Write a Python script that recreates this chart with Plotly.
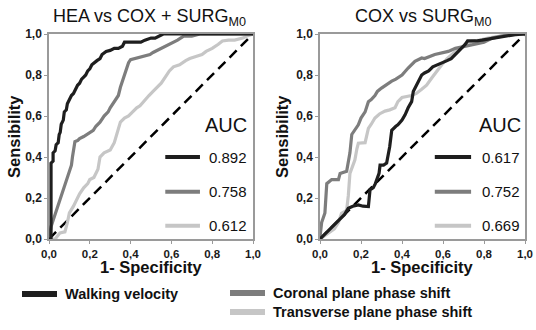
import plotly.graph_objects as go

# ---------------- data ----------------
tick_vals = [0, 0.2, 0.4, 0.6, 0.8, 1.0]
tick_text = ["0,0", "0,2", "0,4", "0,6", "0,8", "1,0"]

panel_titles = ["HEA vs COX + SURG<sub>M0</sub>", "COX vs SURG<sub>M0</sub>"]
series_names = ["Walking velocity", "Coronal plane phase shift", "Transverse plane phase shift"]
auc_left = ["0.892", "0.758", "0.612"]
auc_right = ["0.617", "0.752", "0.669"]

# Left panel: HEA vs COX + SURG M0
LB_x = [0, 0.01, 0.01, 0.02, 0.02, 0.03, 0.035, 0.045, 0.05, 0.055, 0.06, 0.07, 0.075, 0.085, 0.09, 0.10, 0.11,
        0.12, 0.13, 0.14, 0.15, 0.16, 0.17, 0.18, 0.19, 0.20, 0.21, 0.22, 0.235, 0.25, 0.26, 0.28, 0.30, 0.32,
        0.34, 0.36, 0.37, 0.40, 0.45, 0.47, 0.50, 0.52, 0.54, 0.56, 1.0]
LB_y = [0, 0, 0.37, 0.38, 0.42, 0.43, 0.46, 0.47, 0.51, 0.52, 0.56, 0.58, 0.62, 0.63, 0.66, 0.68, 0.70,
        0.71, 0.73, 0.75, 0.76, 0.78, 0.79, 0.80, 0.82, 0.83, 0.85, 0.86, 0.87, 0.88, 0.90, 0.915, 0.92, 0.93,
        0.93, 0.94, 0.96, 0.96, 0.96, 0.97, 0.98, 0.98, 0.99, 1.0, 1.0]

LG_x = [0, 0.005, 0.01, 0.02, 0.03, 0.04, 0.05, 0.06, 0.07, 0.08, 0.09, 0.10, 0.11, 0.115, 0.12, 0.127, 0.14,
        0.15, 0.17, 0.185, 0.2, 0.217, 0.23, 0.25, 0.27, 0.29, 0.30, 0.32, 0.34, 0.35, 0.36, 0.37, 0.38, 0.39,
        0.40, 0.42, 0.446, 0.47, 0.495, 0.51, 0.53, 0.544, 0.57, 0.59, 0.61, 0.63, 0.66, 0.70, 0.74, 1.0]
LG_y = [0, 0.04, 0.06, 0.09, 0.12, 0.14, 0.18, 0.21, 0.24, 0.27, 0.29, 0.32, 0.36, 0.40, 0.44, 0.475, 0.48,
        0.49, 0.50, 0.51, 0.52, 0.53, 0.55, 0.57, 0.60, 0.62, 0.64, 0.67, 0.70, 0.74, 0.77, 0.80, 0.83, 0.86,
        0.875, 0.88, 0.886, 0.89, 0.90, 0.91, 0.92, 0.93, 0.94, 0.95, 0.964, 0.97, 0.99, 0.99, 1.0, 1.0]

LL_x = [0, 0.03, 0.054, 0.078, 0.09, 0.10, 0.12, 0.14, 0.15, 0.17, 0.19, 0.20, 0.22, 0.24, 0.25, 0.27, 0.29,
        0.30, 0.32, 0.33, 0.34, 0.35, 0.37, 0.39, 0.41, 0.43, 0.446, 0.47, 0.49, 0.51, 0.53, 0.55, 0.57, 0.59,
        0.61, 0.64, 0.67, 0.69, 0.72, 0.75, 0.77, 0.80, 0.83, 0.85, 0.88, 0.91, 0.95, 0.97, 1.0]
LL_y = [0, 0, 0.03, 0.035, 0.08, 0.127, 0.16, 0.20, 0.22, 0.25, 0.27, 0.29, 0.30, 0.34, 0.40, 0.42, 0.43,
        0.434, 0.47, 0.50, 0.53, 0.57, 0.59, 0.60, 0.62, 0.64, 0.65, 0.68, 0.70, 0.72, 0.74, 0.76, 0.79, 0.82,
        0.84, 0.85, 0.87, 0.88, 0.89, 0.90, 0.915, 0.93, 0.95, 0.966, 0.97, 0.97, 0.98, 0.99, 1.0]

# Right panel: COX vs SURG M0
RB_x = [0, 0.02, 0.04, 0.06, 0.08, 0.10, 0.12, 0.138, 0.16, 0.187, 0.21, 0.236, 0.244, 0.26, 0.27, 0.288,
        0.293, 0.31, 0.325, 0.34, 0.345, 0.35, 0.37, 0.38, 0.40, 0.415, 0.43, 0.447, 0.455, 0.463, 0.48, 0.496,
        0.51, 0.53, 0.55, 0.577, 0.60, 0.62, 0.64, 0.66, 0.69, 0.707, 0.72, 0.76, 0.79, 0.82, 0.85, 0.90, 0.95, 1.0]
RB_y = [0, 0.02, 0.04, 0.06, 0.08, 0.10, 0.12, 0.15, 0.16, 0.166, 0.16, 0.158, 0.24, 0.25, 0.27, 0.32,
        0.36, 0.36, 0.37, 0.45, 0.49, 0.53, 0.55, 0.557, 0.58, 0.606, 0.64, 0.67, 0.72, 0.736, 0.77, 0.80,
        0.81, 0.82, 0.84, 0.85, 0.86, 0.87, 0.88, 0.90, 0.93, 0.948, 0.966, 0.966, 0.97, 0.975, 0.98, 0.99, 0.997, 1.0]

RG_x = [0, 0, 0.008, 0.024, 0.033, 0.057, 0.09, 0.098, 0.13, 0.138, 0.146, 0.155, 0.17, 0.187, 0.20, 0.22,
        0.236, 0.25, 0.268, 0.28, 0.30, 0.32, 0.35, 0.37, 0.40, 0.43, 0.463, 0.496, 0.51, 0.56, 0.60, 0.626,
        0.66, 0.707, 0.74, 0.77, 0.80, 0.84, 0.88, 0.92, 1.0]
RG_y = [0, 0.01, 0.08, 0.127, 0.27, 0.29, 0.29, 0.32, 0.33, 0.37, 0.42, 0.51, 0.53, 0.557, 0.59, 0.62,
        0.67, 0.68, 0.70, 0.72, 0.736, 0.75, 0.77, 0.78, 0.80, 0.834, 0.867, 0.883, 0.88, 0.90, 0.91, 0.915,
        0.93, 0.94, 0.95, 0.956, 0.96, 0.98, 0.99, 0.997, 1.0]

RL_x = [0, 0.04, 0.07, 0.09, 0.105, 0.13, 0.138, 0.146, 0.16, 0.17, 0.18, 0.187, 0.22, 0.236, 0.25, 0.268,
        0.29, 0.317, 0.34, 0.366, 0.38, 0.40, 0.447, 0.47, 0.496, 0.52, 0.545, 0.57, 0.594, 0.62, 0.66, 0.70,
        0.74, 0.78, 0.82, 0.88, 0.95, 1.0]
RL_y = [0, 0.03, 0.05, 0.08, 0.125, 0.14, 0.21, 0.32, 0.36, 0.385, 0.44, 0.467, 0.47, 0.54, 0.56, 0.59,
        0.61, 0.624, 0.63, 0.64, 0.67, 0.69, 0.70, 0.71, 0.73, 0.75, 0.785, 0.82, 0.85, 0.88, 0.915, 0.94,
        0.964, 0.97, 0.98, 0.99, 0.997, 1.0]

diag = [0, 1]

# ---------------- styling ----------------
colors = ["#1e1e1e", "#7d7d7d", "#c6c6c6"]
FONT = "Liberation Sans, Arial, sans-serif"
W, H = 536, 330

fig = go.Figure()

panels = [
    ("x", "y", [(LB_x, LB_y), (LG_x, LG_y), (LL_x, LL_y)]),
    ("x2", "y2", [(RB_x, RB_y), (RG_x, RG_y), (RL_x, RL_y)]),
]
for xa, ya, curves in panels:
    fig.add_trace(go.Scatter(x=diag, y=diag, xaxis=xa, yaxis=ya, mode="lines",
                             line=dict(color="black", width=2.5, dash="10px,6px"),
                             showlegend=False, hoverinfo="skip"))
    for i in [2, 1, 0]:
        cx, cy = curves[i]
        fig.add_trace(go.Scatter(x=cx, y=cy, xaxis=xa, yaxis=ya, mode="lines",
                                 line=dict(color=colors[i], width=3.2),
                                 showlegend=False, hoverinfo="skip"))

axis_common = dict(range=[0, 1], tickvals=tick_vals, ticktext=tick_text, showline=True, mirror=True,
                   linecolor="#9a9a9a", linewidth=1.5, ticks="outside", ticklen=3, tickcolor="#9a9a9a",
                   showgrid=False, zeroline=False, fixedrange=True, automargin=False)
xfont = dict(family=FONT, size=11.5, color="#1a1a1a", weight="bold")
yfont = dict(family=FONT, size=12, color="#1a1a1a", weight="bold")

yb, yt = (H - 239) / H, (H - 34) / H
fig.update_layout(
    width=W, height=H, margin=dict(l=0, r=0, t=0, b=0, autoexpand=False),
    paper_bgcolor="white", plot_bgcolor="white", showlegend=False,
    xaxis=dict(domain=[49 / W, 253 / W], anchor="y", tickfont=xfont, **axis_common),
    yaxis=dict(domain=[yb, yt], anchor="x", tickfont=yfont, **axis_common),
    xaxis2=dict(domain=[320 / W, 525 / W], anchor="y2", tickfont=xfont, **axis_common),
    yaxis2=dict(domain=[yb, yt], anchor="x2", tickfont=yfont, **axis_common),
)

ann = []
shapes = []
for xc, t in [(149, panel_titles[0]), (423, panel_titles[1])]:
    ann.append(dict(x=xc / W, y=(H - 17) / H, xref="paper", yref="paper", text=t, showarrow=False,
                    xanchor="center", yanchor="middle",
                    font=dict(family=FONT, size=18, color="#111")))
for xc in [151 / W, 422 / W]:
    ann.append(dict(x=xc, y=(H - 267) / H, xref="paper", yref="paper", text="1- Specificity", showarrow=False,
                    xanchor="center", yanchor="middle",
                    font=dict(family=FONT, size=16.5, color="#111", weight="bold")))
for xc in [14 / W, 282 / W]:
    ann.append(dict(x=xc, y=(H - 137) / H, xref="paper", yref="paper", text="Sensibility", showarrow=False,
                    xanchor="center", yanchor="middle", textangle=-90,
                    font=dict(family=FONT, size=16.5, color="#111", weight="bold")))

inner_y = [0.40, 0.23, 0.065]
for xa, ya, vals, lx0, lx1, tx, ac in [("x", "y", auc_left, 0.57, 0.74, 0.775, 0.87),
                                         ("x2", "y2", auc_right, 0.56, 0.737, 0.78, 0.876)]:
    ann.append(dict(x=ac, y=0.555, xref=xa, yref=ya, text="AUC", showarrow=False,
                    xanchor="center", yanchor="middle",
                    font=dict(family=FONT, size=20, color="#111")))
    for i, v in enumerate(vals):
        shapes.append(dict(type="line", xref=xa, yref=ya, x0=lx0, x1=lx1, y0=inner_y[i], y1=inner_y[i],
                           line=dict(color=colors[i], width=4)))
        ann.append(dict(x=tx, y=inner_y[i], xref=xa, yref=ya, text=v, showarrow=False,
                        xanchor="left", yanchor="middle",
                        font=dict(family=FONT, size=15, color="#111")))

leg = [(22, 57, 294, 63), (230, 265, 293, 271), (230, 265, 312, 271)]
for i, (x0, x1, yy, tx) in enumerate(leg):
    shapes.append(dict(type="line", xref="paper", yref="paper", x0=x0 / W, x1=x1 / W,
                       y0=(H - yy) / H, y1=(H - yy) / H, line=dict(color=colors[i], width=6)))
    ann.append(dict(x=tx / W, y=(H - yy) / H, xref="paper", yref="paper", text=series_names[i],
                    showarrow=False, xanchor="left", yanchor="middle",
                    font=dict(family=FONT, size=14.5, color="#111", weight="bold")))

fig.update_layout(annotations=ann, shapes=shapes)
fig.write_html("out.html", config={"displayModeBar": False},
               post_script="document.body.style.margin='0px';document.body.style.overflow='hidden';")
